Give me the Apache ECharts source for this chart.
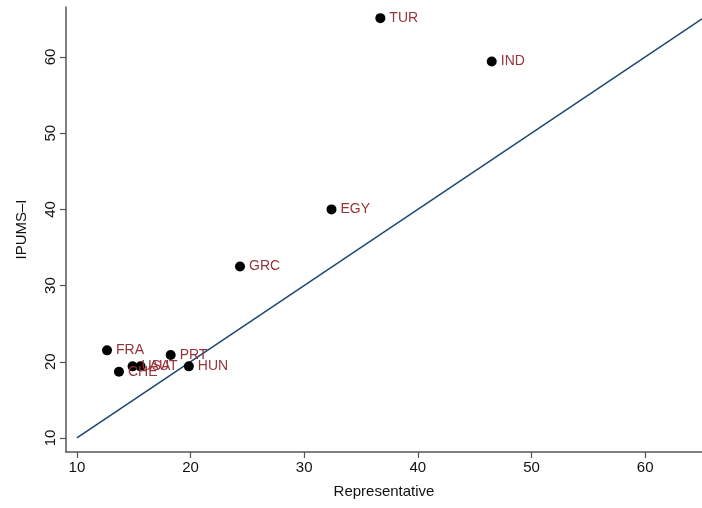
<!DOCTYPE html>
<html>
<head>
<meta charset="utf-8">
<script src="https://cdn.jsdelivr.net/npm/echarts@6/dist/echarts.min.js"></script>
<style>
  html, body { margin: 0; padding: 0; background: #fff; }
  #chart { width: 702px; height: 508px; }
</style>
</head>
<body>
<div id="chart"></div>
<script>
// Country codes and their shares by source
const countries = ['TUR', 'IND', 'EGY', 'GRC', 'FRA', 'PRT', 'HUN', 'CHE', 'USA', 'AUT'];
const representative = [36.7, 46.5, 32.4, 24.35, 12.65, 18.25, 19.85, 13.7, 14.9, 15.6];
const ipums = [65.1, 59.4, 40.0, 32.5, 21.5, 20.9, 19.4, 18.7, 19.4, 19.4];

// Axis ticks
const xTicks = [10, 20, 30, 40, 50, 60];
const yTicks = [10, 20, 30, 40, 50, 60];

// 45-degree reference line end points
const diagonal = [[10, 10], [65, 65]];

const points = countries.map((c, i) => ({ name: c, value: [representative[i], ipums[i]] }));

const chart = echarts.init(document.getElementById('chart'));
const font = 'Liberation Sans, Arial, Helvetica, sans-serif';
const axisColor = '#555555';

chart.setOption({
  animation: false,
  backgroundColor: '#ffffff',
  grid: { left: 66, right: 0, top: 7, bottom: 56, containLabel: false },
  xAxis: {
    type: 'value',
    min: 9.04,
    max: 65,
    name: 'Representative',
    nameLocation: 'middle',
    nameGap: 32,
    nameTextStyle: { fontFamily: font, fontSize: 15, color: '#111' },
    splitLine: { show: false },
    axisLine: { show: true, onZero: false, lineStyle: { color: axisColor, width: 1.5 } },
    axisTick: { show: true, length: 6, customValues: xTicks, lineStyle: { color: axisColor, width: 1.2 } },
    axisLabel: { customValues: xTicks, fontFamily: font, fontSize: 15, color: '#111', margin: 8 }
  },
  yAxis: {
    type: 'value',
    min: 8.16,
    max: 66.56,
    name: 'IPUMS\u2013I',
    nameLocation: 'middle',
    nameGap: 37,
    nameRotate: 90,
    nameTextStyle: { fontFamily: font, fontSize: 15, color: '#111' },
    splitLine: { show: false },
    axisLine: { show: true, onZero: false, lineStyle: { color: axisColor, width: 1.5 } },
    axisTick: { show: true, length: 6, customValues: yTicks, lineStyle: { color: axisColor, width: 1.2 } },
    axisLabel: { customValues: yTicks, rotate: 90, fontFamily: font, fontSize: 15, color: '#111', margin: 8 }
  },
  series: [
    {
      type: 'line',
      data: diagonal,
      showSymbol: false,
      clip: true,
      lineStyle: { color: '#1a476f', width: 1.5 },
      z: 1
    },
    {
      type: 'scatter',
      data: points,
      symbol: 'circle',
      symbolSize: 10,
      itemStyle: { color: '#000000', opacity: 1 },
      label: {
        show: true,
        position: 'right',
        distance: 4,
        formatter: p => p.name,
        fontFamily: font,
        fontSize: 14,
        color: '#97333a'
      },
      labelLayout: { hideOverlap: false },
      z: 2
    }
  ]
});
</script>
</body>
</html>
